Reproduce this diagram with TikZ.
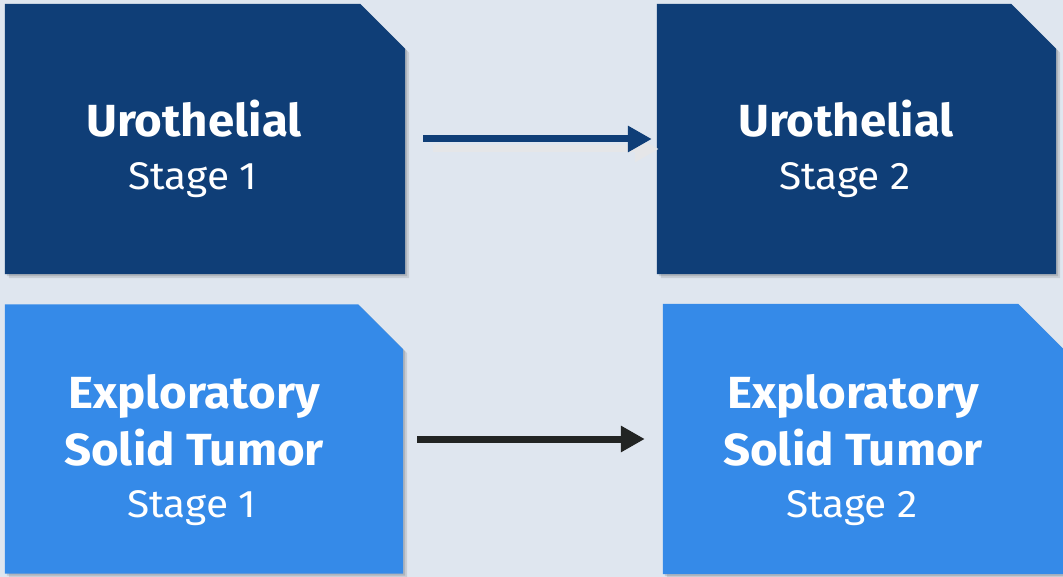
\documentclass[tikz,border=0pt]{standalone}
\usepackage{fontspec}
\setmainfont[FakeStretch=1.055]{Fira Sans}
\usetikzlibrary{arrows.meta}
\definecolor{bgc}{HTML}{DFE6EF}
\definecolor{darkblue}{HTML}{0F3E77}
\definecolor{lightblue}{HTML}{358AE8}
\definecolor{arrowblack}{HTML}{222423}
\definecolor{arrowshade}{HTML}{E5E6E8}
\tikzset{
  boxframe/.style={draw=none, inner sep=0pt, minimum width=#1},
  titletext/.style={anchor=base, inner sep=0pt, text=white, font=\fontsize{45}{50}\selectfont\bfseries},
  stagetext/.style={anchor=base, inner sep=0pt, text=white, font=\fontsize{38.5}{44}\selectfont},
  flowarrow/.style={line width=7pt, -{Triangle[length=24pt,width=25pt]}},
}
\newcommand\chambox[3]{%
  \fill[black, opacity=0.10] ([shift={(4pt,-4pt)}]#1.south west) -- ([shift={(4pt,-4pt)}]#1.north west) -- ([shift={(-41pt,-4pt)}]#1.north east) -- ([shift={(4pt,-49pt)}]#1.north east) -- ([shift={(4pt,-4pt)}]#1.south east) -- cycle;
  \fill[black, opacity=0.12] ([shift={(2pt,-2pt)}]#1.south west) -- ([shift={(2pt,-2pt)}]#1.north west) -- ([shift={(-43pt,-2pt)}]#1.north east) -- ([shift={(2pt,-47pt)}]#1.north east) -- ([shift={(2pt,-2pt)}]#1.south east) -- cycle;
  \fill[#2] (#1.south west) -- (#1.north west) -- ([xshift=-#3]#1.north east) -- ([yshift=-#3]#1.north east) -- (#1.south east) -- cycle;
}
\begin{document}
\begin{tikzpicture}[x=1pt,y=-1pt]
\fill[bgc] (0,0) rectangle (1063,577);
\useasboundingbox (0,0) rectangle (1063,577);

% box frames
\node[boxframe=400pt, minimum height=270pt] (u1) at (205,139) {};
\node[boxframe=399pt, minimum height=270pt] (u2) at (856.5,139) {};
\node[boxframe=398pt, minimum height=269pt] (e1) at (204,439) {};
\node[boxframe=400pt, minimum height=270pt] (e2) at (863,439) {};

\chambox{u1}{darkblue}{45pt}
\chambox{u2}{darkblue}{45pt}
\chambox{e1}{lightblue}{45pt}
\chambox{e2}{lightblue}{45pt}

% texts
\node[titletext] (u1a) at (194,137) {Urothelial};
\node[stagetext] (u1b) at (193,190) {Stage 1};
\node[titletext] (u2a) at (846,137) {Urothelial};
\node[stagetext] (u2b) at (845,190) {Stage 2};

\node[titletext] (e1a) at (194,408) {Exploratory};
\node[titletext] (e1b) at (194,465) {Solid Tumor};
\node[stagetext] (e1c) at (192,517) {Stage 1};
\node[titletext] (e2a) at (853,408) {Exploratory};
\node[titletext] (e2b) at (853,465) {Solid Tumor};
\node[stagetext] (e2c) at (852,517) {Stage 2};

% connectors
\draw[flowarrow, arrowshade, transform canvas={shift={(10pt,-10pt)}}, shorten <=18pt, shorten >=8pt] (u1.east) -- (u2.west);
\draw[flowarrow, darkblue, shorten <=18pt, shorten >=5pt] (u1.east) -- (u2.west);
\draw[flowarrow, arrowblack, shorten <=14pt, shorten >=18pt] (e1.east) -- (e2.west);
\end{tikzpicture}
\end{document}
